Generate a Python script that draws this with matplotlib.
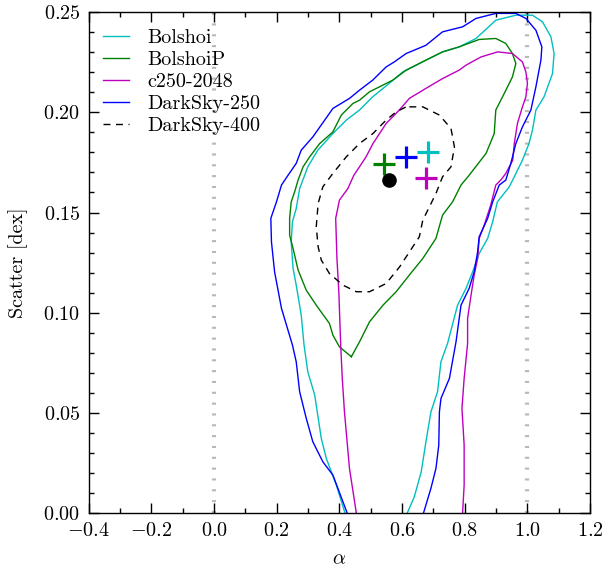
import matplotlib
matplotlib.use('Agg')
import matplotlib.pyplot as plt
import numpy as np
from matplotlib.ticker import MultipleLocator

plt.rcParams['font.family'] = 'serif'
plt.rcParams['font.serif'] = ['cmr10']
plt.rcParams['mathtext.fontset'] = 'cm'
plt.rcParams['axes.formatter.use_mathtext'] = True
plt.rcParams['font.size'] = 14.5

# contour outlines (alpha, scatter)
bolshoi_a = [0.418, 0.390, 0.358, 0.342, 0.321, 0.299, 0.287, 0.278, 0.262, 0.252, 0.246, 0.250,
             0.262, 0.273, 0.289, 0.299, 0.331, 0.379, 0.422, 0.464, 0.506, 0.559, 0.602, 0.655,
             0.729, 0.782, 0.836, 0.899, 0.963, 1.016, 1.048, 1.075, 1.085, 1.080, 1.053, 1.027,
             1.016, 1.005, 0.984, 0.958, 0.942, 0.904, 0.889, 0.873, 0.846, 0.825, 0.804, 0.777,
             0.745, 0.724, 0.713, 0.692, 0.676, 0.661, 0.639, 0.616]
bolshoi_s = [0.0, 0.0141, 0.0274, 0.0374, 0.0590, 0.0706, 0.0839, 0.0989, 0.1138, 0.1221, 0.1354,
             0.1454, 0.1520, 0.1620, 0.1686, 0.1728, 0.1811, 0.1894, 0.1961, 0.2011, 0.2077, 0.2144,
             0.2201, 0.2243, 0.2301, 0.2326, 0.2368, 0.2459, 0.2484, 0.2484, 0.2451, 0.2376, 0.2293,
             0.2193, 0.2077, 0.2011, 0.1911, 0.1844, 0.1761, 0.1678, 0.1628, 0.1553, 0.1454, 0.1371,
             0.1296, 0.1204, 0.1122, 0.1038, 0.0847, 0.0756, 0.0606, 0.0506, 0.0357, 0.0207, 0.0083, 0.0]

bolshoip_a = [0.438, 0.400, 0.379, 0.368, 0.326, 0.294, 0.268, 0.252, 0.241, 0.241, 0.246, 0.257,
              0.268, 0.284, 0.305, 0.337, 0.379, 0.406, 0.443, 0.464, 0.496, 0.528, 0.570, 0.613,
              0.676, 0.729, 0.782, 0.846, 0.899, 0.931, 0.952, 0.963, 0.952, 0.926, 0.899, 0.894,
              0.868, 0.814, 0.788, 0.761, 0.729, 0.708, 0.666, 0.623, 0.581, 0.539, 0.496, 0.464, 0.438]
bolshoip_s = [0.0781, 0.0830, 0.0889, 0.0947, 0.1038, 0.1113, 0.1213, 0.1321, 0.1387, 0.1471, 0.1553,
              0.1603, 0.1662, 0.1728, 0.1778, 0.1844, 0.1902, 0.1986, 0.2044, 0.2060, 0.2102, 0.2127,
              0.2160, 0.2210, 0.2260, 0.2301, 0.2326, 0.2363, 0.2368, 0.2343, 0.2293, 0.2243, 0.2176,
              0.2094, 0.2011, 0.1894, 0.1795, 0.1686, 0.1637, 0.1553, 0.1487, 0.1371, 0.1271, 0.1188,
              0.1105, 0.1038, 0.0955, 0.0855, 0.0781]

c250_a = [0.454, 0.432, 0.416, 0.409, 0.404, 0.398, 0.392, 0.388, 0.400, 0.427, 0.446, 0.464, 0.485,
          0.507, 0.549, 0.591, 0.623, 0.676, 0.729, 0.782, 0.804, 0.852, 0.905, 0.952, 0.984, 0.995,
          1.000, 0.995, 0.984, 0.968, 0.958, 0.953, 0.931, 0.915, 0.899, 0.883, 0.862, 0.846, 0.841,
          0.830, 0.820, 0.809, 0.809, 0.798, 0.791, 0.798, 0.798, 0.793]
c250_s = [0.0, 0.0224, 0.0506, 0.0673, 0.0839, 0.1105, 0.1271, 0.1471, 0.1562, 0.1620, 0.1686, 0.1728,
          0.1778, 0.1844, 0.1944, 0.2011, 0.2069, 0.2119, 0.2168, 0.2210, 0.2235, 0.2276, 0.2301,
          0.2293, 0.2251, 0.2201, 0.2144, 0.2077, 0.2027, 0.1944, 0.1844, 0.1761, 0.1695, 0.1662,
          0.1637, 0.1538, 0.1437, 0.1371, 0.1271, 0.1188, 0.1088, 0.0972, 0.0847, 0.0673, 0.0523,
          0.0340, 0.0141, 0.0]

ds250_a = [0.425, 0.379, 0.347, 0.315, 0.294, 0.273, 0.262, 0.250, 0.215, 0.193, 0.183, 0.181, 0.199,
           0.215, 0.236, 0.262, 0.278, 0.315, 0.353, 0.379, 0.432, 0.464, 0.506, 0.549, 0.575, 0.613,
           0.676, 0.729, 0.793, 0.836, 0.899, 0.963, 0.995, 1.027, 1.046, 1.043, 1.027, 1.011, 0.984,
           0.963, 0.947, 0.931, 0.910, 0.889, 0.873, 0.846, 0.841, 0.830, 0.814, 0.788, 0.772, 0.751,
           0.724, 0.719, 0.717, 0.708, 0.692, 0.668]
ds250_s = [0.0, 0.0191, 0.0257, 0.0357, 0.0474, 0.0606, 0.0756, 0.0839, 0.1022, 0.1204, 0.1354, 0.1471,
           0.1553, 0.1637, 0.1686, 0.1745, 0.1811, 0.1877, 0.1961, 0.2019, 0.2069, 0.2110, 0.2160,
           0.2226, 0.2251, 0.2293, 0.2334, 0.2401, 0.2426, 0.2468, 0.2493, 0.2493, 0.2468, 0.2409,
           0.2326, 0.2260, 0.2127, 0.2011, 0.1927, 0.1844, 0.1745, 0.1662, 0.1637, 0.1553, 0.1471,
           0.1379, 0.1304, 0.1204, 0.1122, 0.1038, 0.0855, 0.0673, 0.0573, 0.0506, 0.0340, 0.0224,
           0.0125, 0.0]

ds400_a = [0.623, 0.666, 0.719, 0.756, 0.767, 0.756, 0.729, 0.708, 0.687, 0.666, 0.655, 0.634, 0.592,
           0.549, 0.496, 0.454, 0.411, 0.368, 0.342, 0.332, 0.326, 0.332, 0.347, 0.379, 0.422, 0.464,
           0.507, 0.549, 0.581, 0.613, 0.623]
ds400_s = [0.2027, 0.2027, 0.1986, 0.1919, 0.1827, 0.1728, 0.1678, 0.1595, 0.1528, 0.1462, 0.1379,
           0.1329, 0.1229, 0.1146, 0.1105, 0.1105, 0.1138, 0.1196, 0.1263, 0.1329, 0.1429, 0.1545,
           0.1628, 0.1695, 0.1778, 0.1844, 0.1894, 0.1961, 0.2002, 0.2027, 0.2027]

# best fit points
best_a = {'Bolshoi': 0.684, 'BolshoiP': 0.542, 'c250-2048': 0.676, 'DarkSky-250': 0.611}
best_s = {'Bolshoi': 0.1803, 'BolshoiP': 0.1740, 'c250-2048': 0.1670, 'DarkSky-250': 0.1775}
dot_a, dot_s = 0.558, 0.1662

fig = plt.figure(figsize=(6.04, 5.71), dpi=100)
ax = fig.add_axes([0.147, 0.101, 0.830, 0.878])

ax.axvline(0.0, color='0.72', lw=3, dashes=(0.5, 2.1), zorder=1)
ax.axvline(1.0, color='0.72', lw=3, dashes=(0.5, 2.1), zorder=1)

ax.plot(bolshoi_a, bolshoi_s, color='c', lw=1.0, label='Bolshoi')
ax.plot(bolshoip_a, bolshoip_s, color='g', lw=1.0, label='BolshoiP')
ax.plot(c250_a, c250_s, color='m', lw=1.0, label='c250-2048')
ax.plot(ds250_a, ds250_s, color='b', lw=1.0, label='DarkSky-250')
ax.plot(ds400_a, ds400_s, color='k', lw=1.0, dashes=(5, 4), label='DarkSky-400')

cols = {'Bolshoi': 'c', 'BolshoiP': 'g', 'c250-2048': 'm', 'DarkSky-250': 'b'}
for k in ['BolshoiP', 'DarkSky-250', 'Bolshoi', 'c250-2048']:
    ax.plot(best_a[k], best_s[k], '+', color=cols[k], ms=16, mew=2.3)
ax.plot(dot_a, dot_s, 'o', color='k', ms=9.5)

ax.set_xlim(-0.4, 1.2)
ax.set_ylim(0.0, 0.25)
ax.xaxis.set_major_locator(MultipleLocator(0.2))
ax.xaxis.set_minor_locator(MultipleLocator(0.1))
ax.yaxis.set_major_locator(MultipleLocator(0.05))
ax.yaxis.set_minor_locator(MultipleLocator(0.01))
ax.tick_params(which='both', direction='in', top=True, right=True, width=1.0)
ax.tick_params(which='major', length=7.5, pad=6)
ax.tick_params(which='minor', length=3.5)
ax.yaxis.set_major_formatter(plt.FuncFormatter(lambda v, p: '$%.2f$' % v))
ax.xaxis.set_major_formatter(plt.FuncFormatter(lambda v, p: '$%.1f$' % v if v >= 0 else '$-%.1f$' % abs(v)))
for sp in ax.spines.values():
    sp.set_linewidth(1.0)

ax.set_xlabel(r'$\alpha$', labelpad=8)
ax.set_ylabel('Scatter [dex]', labelpad=11)

ax.legend(loc='upper left', bbox_to_anchor=(0.0, 0.995), frameon=False, handlelength=1.3,
          handletextpad=0.9, labelspacing=0.2, borderaxespad=0.3, fontsize=14.5)

plt.savefig('out.png', dpi=100)
plt.close()
